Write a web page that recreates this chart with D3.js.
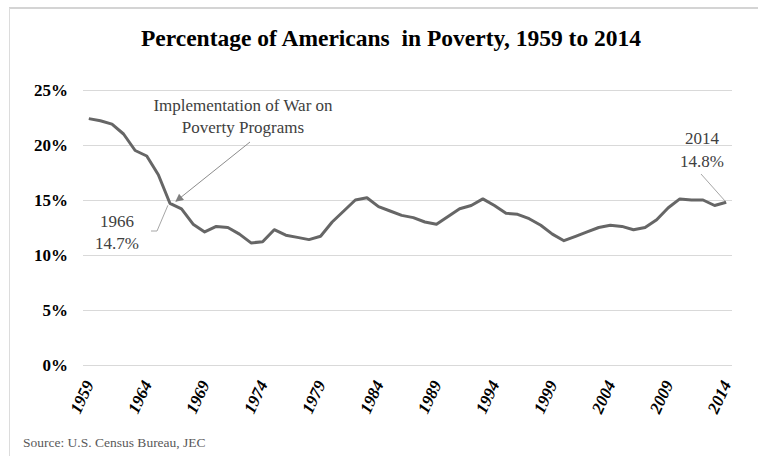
<!DOCTYPE html>
<html>
<head>
<meta charset="UTF-8">
<style>
  body { margin: 0; background: #fff; }
  svg text { font-family: "Liberation Serif", "Times New Roman", Times, "DejaVu Serif", serif; }
  .grid line { stroke: #d9d9d9; stroke-width: 1; shape-rendering: crispEdges; }
  .axis path { display: none; }
  .axis line { display: none; }
  .axis--y text { font-size: 17px; font-weight: bold; fill: #000; font-family: "Liberation Serif", "Times New Roman", Times, "DejaVu Serif", serif; }
  .axis--x text { font-size: 17px; font-weight: bold; font-style: italic; fill: #000; font-family: "Liberation Serif", "Times New Roman", Times, "DejaVu Serif", serif; }
  .note { font-size: 17px; fill: #404040; }
  .leader { fill: none; stroke: #a6a6a6; stroke-width: 1; }
</style>
<script src="https://d3js.org/d3.v7.min.js"></script>
</head>
<body>
<svg width="758" height="456"></svg>
<script>
// data (official poverty rate, all people)
var years = d3.range(1959, 2015);
var rates = [22.4, 22.2, 21.9, 21.0, 19.5, 19.0, 17.3, 14.7, 14.2, 12.8,
             12.1, 12.6, 12.5, 11.9, 11.1, 11.2, 12.3, 11.8, 11.6, 11.4,
             11.7, 13.0, 14.0, 15.0, 15.2, 14.4, 14.0, 13.6, 13.4, 13.0,
             12.8, 13.5, 14.2, 14.5, 15.1, 14.5, 13.8, 13.7, 13.3, 12.7,
             11.9, 11.3, 11.7, 12.1, 12.5, 12.7, 12.6, 12.3, 12.5, 13.2,
             14.3, 15.1, 15.0, 15.0, 14.5, 14.8];
var yTicks = [0, 5, 10, 15, 20, 25];
var xTicks = [1959, 1964, 1969, 1974, 1979, 1984, 1989, 1994, 1999, 2004, 2009, 2014];

var series = years.map(function(yr, i) { return { year: yr, value: rates[i] }; });

var svg = d3.select('svg');

// frame of the pasted figure
svg.append('line').attr('x1', 9).attr('x2', 758).attr('y1', 8).attr('y2', 8)
  .style('stroke', '#d4d4d4').style('stroke-width', 2);
svg.append('line').attr('x1', 9.5).attr('x2', 9.5).attr('y1', 8).attr('y2', 456)
  .style('stroke', '#dcdcdc').style('stroke-width', 1);

var x = d3.scalePoint().domain(years).range([83, 732]).padding(0.5);
var y = d3.scaleLinear().domain([0, 25]).range([365, 90]);

// title
svg.append('text')
  .attr('x', 391).attr('y', 46)
  .attr('text-anchor', 'middle')
  .style('font-size', '23.5px').style('font-weight', 'bold')
  .style('white-space', 'pre')
  .text('Percentage of Americans  in Poverty, 1959 to 2014');

// gridlines
svg.append('g').attr('class', 'grid')
  .selectAll('line').data(yTicks).enter().append('line')
  .attr('x1', 83).attr('x2', 732)
  .attr('y1', function(d) { return Math.round(y(d)) + 0.5; })
  .attr('y2', function(d) { return Math.round(y(d)) + 0.5; });

// y axis
var yAxis = svg.append('g').attr('class', 'axis axis--y')
  .attr('transform', 'translate(83,0)')
  .call(d3.axisLeft(y).tickValues(yTicks).tickSize(0).tickPadding(15)
    .tickFormat(function(d) { return d + '%'; }));
yAxis.attr('font-family', null);
yAxis.selectAll('text').attr('dy', '0.34em');

// x axis
var xAxis = svg.append('g').attr('class', 'axis axis--x')
  .attr('transform', 'translate(0,' + y(0) + ')')
  .call(d3.axisBottom(x).tickValues(xTicks).tickSize(0));
xAxis.attr('font-family', null);
xAxis.selectAll('text')
  .attr('x', 0).attr('y', 0).attr('dy', 0)
  .attr('text-anchor', 'end')
  .attr('transform', 'translate(5,19) rotate(-65)');

// line
var line = d3.line()
  .x(function(d) { return x(d.year); })
  .y(function(d) { return y(d.value); });

svg.append('path').datum(series)
  .attr('d', line)
  .style('fill', 'none')
  .style('stroke', '#666666')
  .style('stroke-width', 3)
  .style('stroke-linejoin', 'round');

// annotations
var defs = svg.append('defs');
defs.append('marker').attr('id', 'arrow')
  .attr('viewBox', '0 0 10 10').attr('refX', 9).attr('refY', 5)
  .attr('markerWidth', 10).attr('markerHeight', 8)
  .attr('markerUnits', 'userSpaceOnUse')
  .attr('orient', 'auto')
  .append('path').attr('d', 'M0,0 L10,5 L0,10 Z').style('fill', '#7f7f7f');

var x66 = x(1966), y66 = y(14.7);
svg.append('line')
  .attr('x1', 250).attr('y1', 142)
  .attr('x2', x66 + 6).attr('y2', y66 - 2)
  .style('stroke', '#8c8c8c').style('stroke-width', 1)
  .attr('marker-end', 'url(#arrow)');

var warNote = svg.append('text').attr('class', 'note').attr('text-anchor', 'middle');
warNote.append('tspan').attr('x', 243).attr('y', 111).text('Implementation of War on');
warNote.append('tspan').attr('x', 243).attr('y', 133).text('Poverty Programs');

svg.append('path').attr('class', 'leader')
  .attr('d', 'M151,231 L157,231 L' + (x66 - 2) + ',' + (y66 + 2));
var n66 = svg.append('text').attr('class', 'note').attr('text-anchor', 'middle');
n66.append('tspan').attr('x', 117).attr('y', 227).text('1966');
n66.append('tspan').attr('x', 117).attr('y', 249).text('14.7%');

var x14 = x(2014), y14 = y(14.8);
svg.append('path').attr('class', 'leader')
  .attr('d', 'M701,174 L' + (x14 - 1) + ',' + (y14 - 1));
var n14 = svg.append('text').attr('class', 'note').attr('text-anchor', 'middle');
n14.append('tspan').attr('x', 702).attr('y', 144).text('2014');
n14.append('tspan').attr('x', 702).attr('y', 167).text('14.8%');

// source
svg.append('text')
  .attr('x', 23).attr('y', 447)
  .style('font-size', '13.5px').style('fill', '#595959')
  .text('Source: U.S. Census Bureau, JEC');
</script>
</body>
</html>
